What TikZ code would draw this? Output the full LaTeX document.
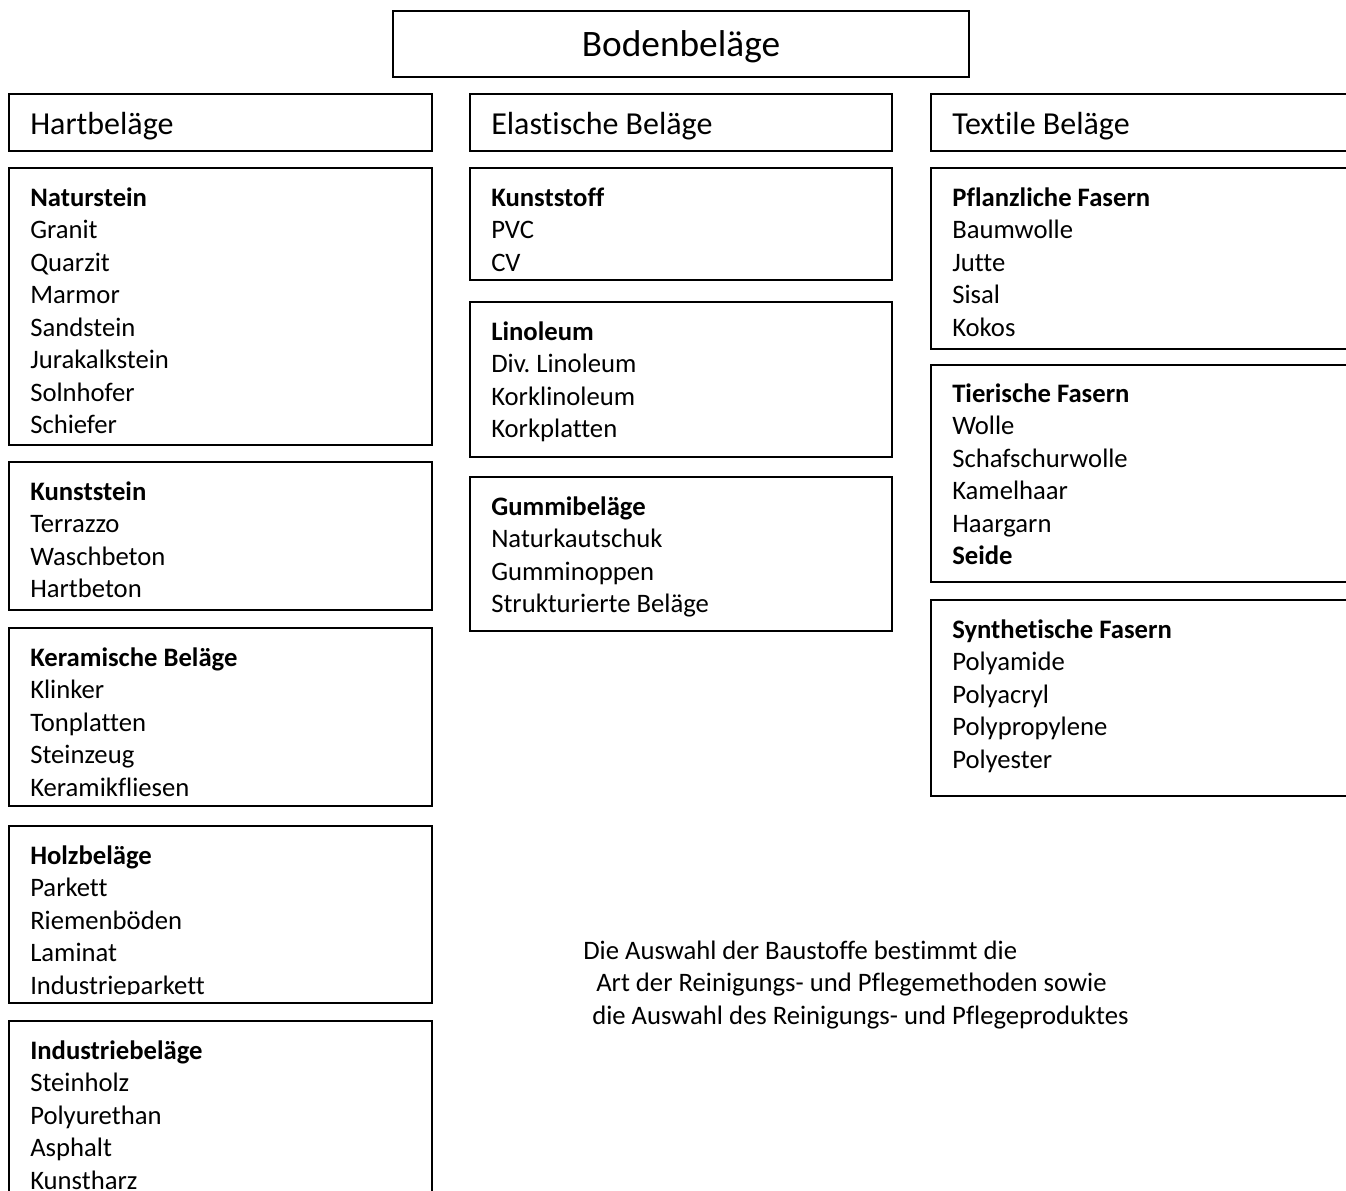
\documentclass[tikz,border=0pt]{standalone}
\usepackage{fontspec}
\setmainfont{Carlito}[Ligatures=NoCommon]
\frenchspacing

\begin{document}
\begin{tikzpicture}[x=0.75pt,y=-0.75pt,
    kasten/.style={draw=black,line width=1.4pt},
    titel/.style={font=\fontsize{28}{34}\selectfont,anchor=base,inner sep=0pt},
    kopf/.style={font=\fontsize{24}{29}\selectfont,anchor=base west,inner sep=0pt},
    liste/.style={font=\fontsize{20}{24.4}\selectfont,anchor=north west,inner sep=0pt,align=left}]
            % Blatt 1346 x 1191
            \clip (0,0) rectangle (1346,1191);
            \fill[white] (0,0) rectangle (1346,1191);

            % Titel
            \draw[kasten] (393,11) rectangle (969,77);
            \node[titel] (boden) at (681,57) {Bodenbeläge};

            % Spaltenkoepfe
            \draw[kasten] (9,94) rectangle (432,151);
            \node[kopf] (hart) at (30,135) {Hartbeläge};
            \draw[kasten] (470,94) rectangle (892,151);
            \node[kopf] (elastisch) at (491,135) {Elastische Beläge};
            \draw[kasten] (931,94) rectangle (1360,151);
            \node[kopf] (textil) at (952,135) {Textile Beläge};

            % Hartbeläge:
            \draw[kasten] (9,168) rectangle (432,445);
            \node[liste] (naturstein) at (30,183) {\strut\textbf{Naturstein}\\Granit\\Quarzit\\Marmor\\Sandstein\\Jurakalkstein\\Solnhofer\\Schiefer};
            \draw[kasten] (9,462) rectangle (432,610);
            \node[liste] (kunststein) at (30,477) {\strut\textbf{Kunststein}\\Terrazzo\\Waschbeton\\Hartbeton};
            \draw[kasten] (9,628) rectangle (432,806);
            \node[liste] (keramik) at (30,643) {\strut\textbf{Keramische Beläge}\\Klinker\\Tonplatten\\Steinzeug\\Keramikfliesen};
            \begin{scope}
            \clip (9,826) rectangle (432,994);
            \node[liste] (holz) at (30,841) {\strut\textbf{Holzbeläge}\\Parkett\\Riemenböden\\Laminat\\Industrieparkett};
            \end{scope}
            \draw[kasten] (9,826) rectangle (432,1003);
            \draw[kasten] (9,1021) rectangle (432,1220);
            \node[liste] (industrie) at (30,1036) {\strut\textbf{Industriebeläge}\\Steinholz\\Polyurethan\\Asphalt\\Kunstharz};

            % Elastische Beläge:
            \draw[kasten] (470,168) rectangle (892,280);
            \node[liste] (kunststoff) at (491,183) {\strut\textbf{Kunststoff}\\PVC\\CV};
            \draw[kasten] (470,302) rectangle (892,457);
            \node[liste] (linoleum) at (491,317) {\strut\textbf{Linoleum}\\Div. Linoleum\\Korklinoleum\\Korkplatten};
            \draw[kasten] (470,477) rectangle (892,631);
            \node[liste] (gummi) at (491,492) {\strut\textbf{Gummibeläge}\\Naturkautschuk\\Gumminoppen\\Strukturierte Beläge};

            % Textile Beläge:
            \draw[kasten] (931,168) rectangle (1360,349);
            \node[liste] (pflanzlich) at (952,183) {\strut\textbf{Pflanzliche Fasern}\\Baumwolle\\Jutte\\Sisal\\Kokos};
            \draw[kasten] (931,365) rectangle (1360,582);
            \node[liste] (tierisch) at (952,379) {\strut\textbf{Tierische Fasern}\\Wolle\\Schafschurwolle\\Kamelhaar\\Haargarn\\\textbf{Seide}};
            \draw[kasten] (931,600) rectangle (1360,796);
            \node[liste] (synthetisch) at (952,615) {\strut\textbf{Synthetische Fasern}\\Polyamide\\Polyacryl\\Polypropylene\\Polyester};

            % Hinweis unten
            \node[liste] (hinweis) at (583,936) {\strut Die Auswahl der Baustoffe bestimmt die\\\hspace*{9.75pt}Art der Reinigungs- und Pflegemethoden sowie\\\hspace*{6.75pt}die Auswahl des Reinigungs- und Pflegeproduktes};
\end{tikzpicture}
\end{document}
